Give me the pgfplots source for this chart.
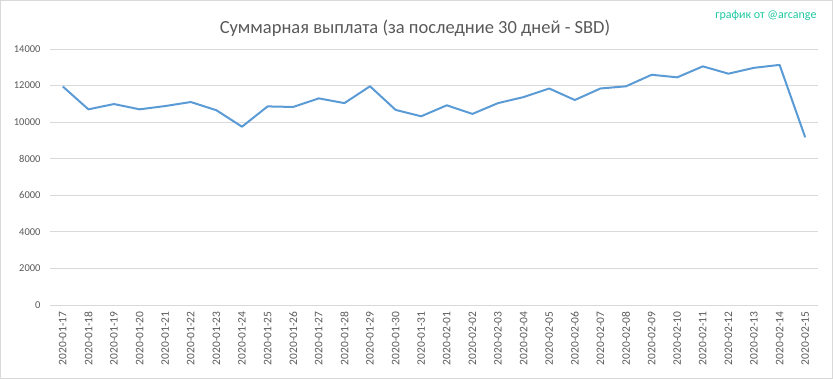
\documentclass[border=0pt]{standalone}
\usepackage{fontspec}
\setmainfont{Carlito}
\usepackage{pgfplots}
\pgfplotsset{compat=1.18}
\definecolor{txt}{HTML}{595959}
\definecolor{grd}{HTML}{D9D9D9}
\definecolor{ln}{HTML}{5B9BD5}
\definecolor{wm}{HTML}{1DC8A0}
\begin{document}
\begin{tikzpicture}
\useasboundingbox (0,0) rectangle (833pt,379pt);
\draw[grd, line width=1pt] (0.5pt,0.5pt) rectangle (832.5pt,378.5pt);
\node[txt, font=\fontsize{18.5}{20}\selectfont] at (415pt,351pt) {Суммарная выплата (за последние 30 дней - SBD)};
\node[wm, font=\fontsize{12}{13}\selectfont, anchor=east] at (820pt,364pt) {график от @arcange};
\begin{axis}[
  at={(50pt,74pt)}, anchor=south west,
  scale only axis, width=768pt, height=256pt,
  xmin=-0.5, xmax=29.5, ymin=0, ymax=14000,
  ytick={0,2000,...,14000},
  xtick={0,...,29},
  xticklabels={2020-01-17,2020-01-18,2020-01-19,2020-01-20,2020-01-21,2020-01-22,2020-01-23,2020-01-24,2020-01-25,2020-01-26,2020-01-27,2020-01-28,2020-01-29,2020-01-30,2020-01-31,2020-02-01,2020-02-02,2020-02-03,2020-02-04,2020-02-05,2020-02-06,2020-02-07,2020-02-08,2020-02-09,2020-02-10,2020-02-11,2020-02-12,2020-02-13,2020-02-14,2020-02-15},
  x tick label style={rotate=90, anchor=east, font=\fontsize{11.5}{12}\selectfont, text=txt},
  y tick label style={font=\fontsize{10.5}{11}\selectfont, text=txt},
  /pgf/number format/assume math mode=true,
  scaled y ticks=false,
  yticklabel style={/pgf/number format/.cd, 1000 sep={}},
  ymajorgrids, grid style={grd, line width=0.8pt},
  axis x line*=bottom, axis y line*=left,
  x axis line style={grd, line width=0.8pt, -},
  y axis line style={draw=none},
  major tick length=0pt,
  tick style={draw=none},
  xticklabel shift=3pt, yticklabel shift=6pt,
  clip=false,
]
\addplot[ln, line width=2pt, mark=none, line join=round] coordinates {
(0,11950) (1,10700) (2,10990) (3,10700) (4,10880) (5,11100) (6,10650) (7,9750) (8,10860) (9,10830)
(10,11300) (11,11040) (12,11960) (13,10670) (14,10320) (15,10920) (16,10450) (17,11040) (18,11370) (19,11840)
(20,11210) (21,11840) (22,11960) (23,12590) (24,12450) (25,13050) (26,12650) (27,12970) (28,13130) (29,9170)
};
\end{axis}
\end{tikzpicture}
\end{document}
